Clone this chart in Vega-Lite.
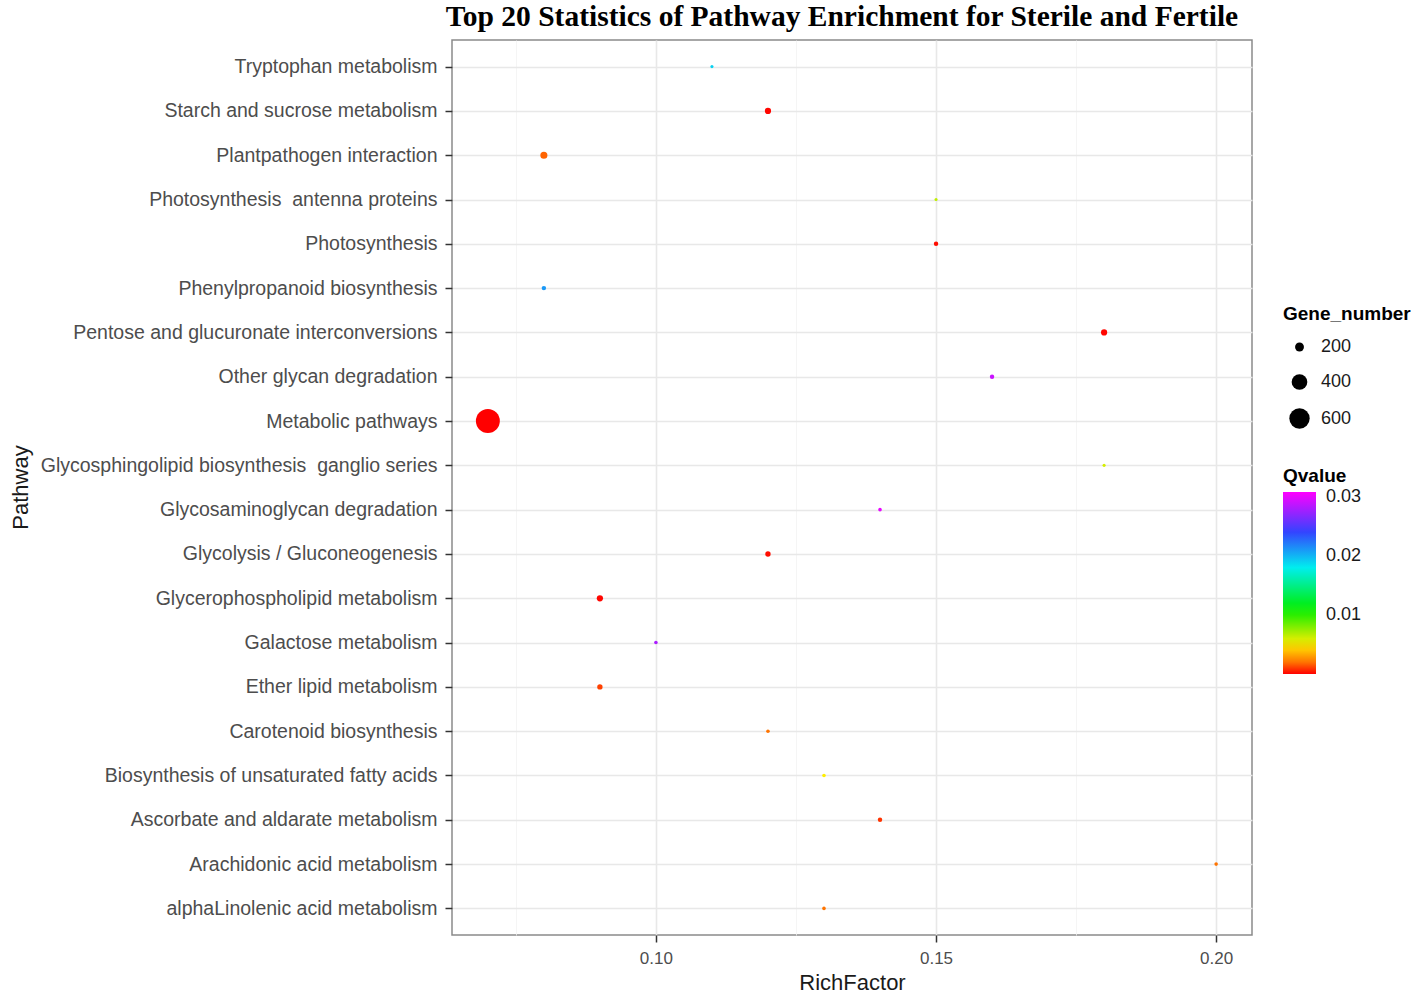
{
  "$schema": "https://vega.github.io/schema/vega-lite/v6.json",
  "width": 800,
  "height": 895,
  "autosize": {"type": "none"},
  "padding": {"left": 452, "top": 40, "right": 166, "bottom": 63},
  "background": "white",
  "title": {
    "text": "Top 20 Statistics of Pathway Enrichment for Sterile and Fertile",
    "font": "Liberation Serif",
    "fontSize": 29.5,
    "fontWeight": "bold",
    "color": "black",
    "anchor": "middle",
    "frame": "group",
    "offset": 8,
    "dx": -10
  },
  "config": {
    "view": {"stroke": "#8a8a8a", "strokeWidth": 1.5},
    "axis": {
      "labelFont": "Liberation Sans",
      "titleFont": "Liberation Sans",
      "titleFontWeight": "normal",
      "titleColor": "#1a1a1a",
      "domain": false
    },
    "legend": {
      "labelFont": "Liberation Sans",
      "titleFont": "Liberation Sans",
      "labelFontSize": 18,
      "titleFontSize": 19,
      "titleFontWeight": "bold",
      "titleColor": "black",
      "labelColor": "#1a1a1a"
    }
  },
  "data": {
    "values": [
      {"Pathway": "Tryptophan metabolism", "RichFactor": 0.11, "Qvalue": 0.019, "Gene_number": 118},
      {"Pathway": "Starch and sucrose metabolism", "RichFactor": 0.12, "Qvalue": 0.0001, "Gene_number": 153},
      {"Pathway": "Plantpathogen interaction", "RichFactor": 0.08, "Qvalue": 0.0016, "Gene_number": 167},
      {"Pathway": "Photosynthesis  antenna proteins", "RichFactor": 0.15, "Qvalue": 0.0065, "Gene_number": 118},
      {"Pathway": "Photosynthesis", "RichFactor": 0.15, "Qvalue": 0.0002, "Gene_number": 130},
      {"Pathway": "Phenylpropanoid biosynthesis", "RichFactor": 0.08, "Qvalue": 0.021, "Gene_number": 130},
      {"Pathway": "Pentose and glucuronate interconversions", "RichFactor": 0.18, "Qvalue": 0.0001, "Gene_number": 153},
      {"Pathway": "Other glycan degradation", "RichFactor": 0.16, "Qvalue": 0.029, "Gene_number": 130},
      {"Pathway": "Metabolic pathways", "RichFactor": 0.07, "Qvalue": 0.0, "Gene_number": 790},
      {"Pathway": "Glycosphingolipid biosynthesis  ganglio series", "RichFactor": 0.18, "Qvalue": 0.006, "Gene_number": 118},
      {"Pathway": "Glycosaminoglycan degradation", "RichFactor": 0.14, "Qvalue": 0.03, "Gene_number": 122},
      {"Pathway": "Glycolysis / Gluconeogenesis", "RichFactor": 0.12, "Qvalue": 0.0002, "Gene_number": 141},
      {"Pathway": "Glycerophospholipid metabolism", "RichFactor": 0.09, "Qvalue": 0.0001, "Gene_number": 153},
      {"Pathway": "Galactose metabolism", "RichFactor": 0.1, "Qvalue": 0.028, "Gene_number": 122},
      {"Pathway": "Ether lipid metabolism", "RichFactor": 0.09, "Qvalue": 0.001, "Gene_number": 141},
      {"Pathway": "Carotenoid biosynthesis", "RichFactor": 0.12, "Qvalue": 0.002, "Gene_number": 122},
      {"Pathway": "Biosynthesis of unsaturated fatty acids", "RichFactor": 0.13, "Qvalue": 0.005, "Gene_number": 122},
      {"Pathway": "Ascorbate and aldarate metabolism", "RichFactor": 0.14, "Qvalue": 0.0008, "Gene_number": 130},
      {"Pathway": "Arachidonic acid metabolism", "RichFactor": 0.2, "Qvalue": 0.002, "Gene_number": 122},
      {"Pathway": "alphaLinolenic acid metabolism", "RichFactor": 0.13, "Qvalue": 0.002, "Gene_number": 122}
    ]
  },
  "mark": {"type": "point", "filled": true, "opacity": 1, "strokeWidth": 0},
  "encoding": {
    "x": {
      "field": "RichFactor",
      "type": "quantitative",
      "scale": {"domain": [0.0636, 0.2064], "nice": false, "zero": false},
      "axis": {
        "title": "RichFactor",
        "titleFontSize": 22,
        "titlePadding": 6,
        "values": [0.075, 0.1, 0.125, 0.15, 0.175, 0.2],
        "labelExpr": "round(datum.value*1000) % 50 == 0 ? format(datum.value, '.2f') : ''",
        "labelFontSize": 17,
        "labelColor": "#4d4d4d",
        "labelPadding": 8,
        "tickSize": 7,
        "tickWidth": 1.5,
        "tickColor": {"condition": {"test": "round(datum.value*1000) % 50 == 0", "value": "#333333"}, "value": "transparent"},
        "grid": true,
        "gridColor": {"condition": {"test": "round(datum.value*1000) % 50 == 0", "value": "#e8e8e8"}, "value": "#f3f3f3"},
        "gridWidth": {"condition": {"test": "round(datum.value*1000) % 50 == 0", "value": 1.6}, "value": 0.8}
      }
    },
    "y": {
      "field": "Pathway",
      "type": "nominal",
      "sort": [
        "Tryptophan metabolism",
        "Starch and sucrose metabolism",
        "Plantpathogen interaction",
        "Photosynthesis  antenna proteins",
        "Photosynthesis",
        "Phenylpropanoid biosynthesis",
        "Pentose and glucuronate interconversions",
        "Other glycan degradation",
        "Metabolic pathways",
        "Glycosphingolipid biosynthesis  ganglio series",
        "Glycosaminoglycan degradation",
        "Glycolysis / Gluconeogenesis",
        "Glycerophospholipid metabolism",
        "Galactose metabolism",
        "Ether lipid metabolism",
        "Carotenoid biosynthesis",
        "Biosynthesis of unsaturated fatty acids",
        "Ascorbate and aldarate metabolism",
        "Arachidonic acid metabolism",
        "alphaLinolenic acid metabolism"
      ],
      "scale": {"type": "point", "padding": 0.6},
      "axis": {
        "title": "Pathway",
        "titleFontSize": 22,
        "titleX": -432,
        "titleY": 447,
        "titleAngle": -90,
        "titleAlign": "center",
        "titleBaseline": "middle",
        "labelFontSize": 19.5,
        "labelLimit": 0,
        "labelExpr": "replace(datum.label, '  ', '\u00a0 ')",
        "labelColor": "#4d4d4d",
        "labelPadding": 8,
        "tickSize": 7,
        "tickWidth": 1.5,
        "tickColor": "#333333",
        "grid": true,
        "gridColor": "#e8e8e8",
        "gridWidth": 1.6
      }
    },
    "size": {
      "field": "Gene_number",
      "type": "quantitative",
      "scale": {"type": "linear", "domain": [118, 790], "range": [9.6, 573], "zero": false},
      "legend": {
        "title": "Gene_number",
        "values": [200, 400, 600],
        "orient": "none",
        "legendX": 831,
        "legendY": 265,
        "symbolFillColor": "black",
        "symbolStrokeColor": "black",
        "symbolStrokeWidth": 0,
        "symbolOffset": 6,
        "labelOffset": 11,
        "rowPadding": 17,
        "titlePadding": 14
      }
    },
    "color": {
      "field": "Qvalue",
      "type": "quantitative",
      "scale": {
        "domain": [0, 0.0015, 0.005, 0.011, 0.018, 0.024, 0.0308],
        "range": ["#ff0000", "#ff6000", "#ffee00", "#00ee00", "#00eeee", "#3344ff", "#ff00ff"],
        "interpolate": "rgb",
        "clamp": true
      },
      "legend": {
        "title": "Qvalue",
        "values": [0.01, 0.02, 0.03],
        "format": ".2f",
        "orient": "none",
        "legendX": 831,
        "legendY": 427,
        "gradientLength": 182,
        "gradientThickness": 33,
        "gradientStrokeWidth": 0,
        "labelOffset": 10,
        "titlePadding": 6
      }
    }
  }
}
